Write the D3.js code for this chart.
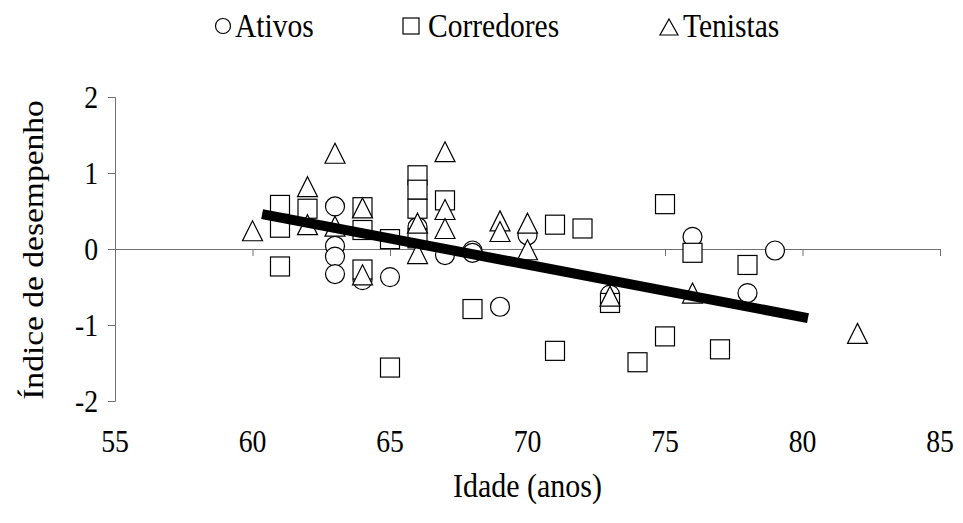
<!DOCTYPE html>
<html>
<head>
<meta charset="utf-8">
<script src="https://cdn.jsdelivr.net/npm/d3@7"></script>
<style>
  html, body { margin: 0; padding: 0; background: #fff; }
  svg { display: block; }
  text { font-family: "Liberation Serif", "Times New Roman", serif; fill: #000; }
</style>
</head>
<body>
<svg id="chart" width="963" height="523"></svg>
<script>
// Ativos (circles)
const ativosIdade = [63, 63, 63, 63, 64, 65, 66, 67, 68, 68, 69, 70, 73, 76, 78, 79];
const ativosIndice = [0.56, 0.04, -0.10, -0.33, -0.41, -0.37, 0.29, -0.08, -0.02, -0.05, -0.76, 0.18, -0.60, 0.16, -0.58, -0.02];

// Corredores (squares)
const corredoresIdade = [61, 61, 61, 62, 64, 64, 64, 65, 65, 66, 66, 66, 66, 67, 68, 71, 71, 72, 73, 74, 75, 75, 76, 77, 78];
const corredoresIndice = [0.58, 0.28, -0.23, 0.53, 0.55, 0.25, -0.27, 0.13, -1.56, 0.97, 0.78, 0.53, 0.14, 0.64, -0.79, 0.32, -1.34, 0.27, -0.71, -1.49, 0.59, -1.15, -0.05, -1.32, -0.21];

// Tenistas (triangles)
const tenistasIdade = [60, 62, 62, 63, 63, 64, 64, 66, 66, 67, 67, 67, 69, 69, 70, 70, 73, 76, 82];
const tenistasIndice = [0.24, 0.82, 0.32, 1.26, 0.30, 0.54, -0.34, 0.34, -0.06, 1.28, 0.52, 0.27, 0.37, 0.23, 0.34, -0.01, -0.62, -0.58, -1.11];

// Linear trend drawn across the sample
const tendenciaIdade = [60.35, 80.2];
const tendenciaIndice = [0.46, -0.91];

const xTicks = [55, 60, 65, 70, 75, 80, 85];
const yTicks = [-2, -1, 0, 1, 2];
const seriesNames = ["Ativos", "Corredores", "Tenistas"];

const svg = d3.select("#chart");
const x = d3.scaleLinear().domain([55, 85]).range([115, 940]);
const y = d3.scaleLinear().domain([-2, 2]).range([401, 97]);

const axisColor = "#707070";
// The typeface is slightly condensed horizontally
const squeeze = 0.895;

// Text helper: horizontal text, narrowed by a horizontal scale factor
function label(parent, txt, px, py, size, anchor) {
  return parent.append("text")
    .attr("transform", `translate(${px},${py}) scale(${squeeze},1)`)
    .attr("text-anchor", anchor || "start")
    .attr("font-size", size)
    .text(txt);
}

// Y axis on the left
const yAxis = svg.append("g")
  .attr("transform", `translate(${x(55)},0)`)
  .call(d3.axisLeft(y).tickValues(yTicks).tickSizeInner(7).tickSizeOuter(7).tickFormat(""));
yAxis.select(".domain").attr("stroke", axisColor);
yAxis.selectAll(".tick line").attr("stroke", axisColor);
yAxis.selectAll(".tick text").remove();

const yLabels = svg.append("g");
yTicks.forEach(t => label(yLabels, t < 0 ? "-" + Math.abs(t) : String(t), 98, y(t) + 10.5, 31, "end"));

// X axis crossing at zero
const xAxis = svg.append("g")
  .attr("transform", `translate(0,${y(0)})`)
  .call(d3.axisBottom(x).tickValues(xTicks).tickSizeInner(7).tickSizeOuter(0).tickFormat(""));
xAxis.select(".domain").attr("stroke", axisColor);
xAxis.selectAll(".tick line").attr("stroke", axisColor);
xAxis.selectAll(".tick text").remove();

// X tick labels placed below the plot
const xLabels = svg.append("g");
xTicks.forEach(t => label(xLabels, String(t), x(t), 452, 31, "middle"));

// Axis titles
label(svg, "Idade (anos)", x(70), 497, 33.5, "middle");

svg.append("text")
  .attr("transform", `translate(43,${y(0) + 1}) rotate(-90) scale(${1 / squeeze},1)`)
  .attr("text-anchor", "middle")
  .attr("font-size", 30)
  .text("Índice de desempenho");

// Marker shapes
const mSize = 19;
function drawCircle(g, cx, cy, r) {
  g.append("circle").attr("cx", cx).attr("cy", cy).attr("r", r)
    .attr("fill", "#fff").attr("stroke", "#000").attr("stroke-width", 1.2);
}
function drawSquare(g, cx, cy, s) {
  g.append("rect").attr("x", cx - s / 2).attr("y", cy - s / 2).attr("width", s).attr("height", s)
    .attr("fill", "#fff").attr("stroke", "#000").attr("stroke-width", 1.2);
}
function drawTriangle(g, cx, cy, s, h) {
  h = h || s;
  const pts = [[cx, cy - h / 2], [cx + s / 2, cy + h / 2], [cx - s / 2, cy + h / 2]];
  g.append("path").attr("d", d3.line()(pts) + "Z")
    .attr("fill", "#fff").attr("stroke", "#000").attr("stroke-width", 1.2);
}

const marks = svg.append("g");
ativosIdade.forEach((a, i) => drawCircle(marks, x(a), y(ativosIndice[i]), mSize / 2));
corredoresIdade.forEach((a, i) => drawSquare(marks, x(a), y(corredoresIndice[i]), mSize));
tenistasIdade.forEach((a, i) => drawTriangle(marks, x(a), y(tenistasIndice[i]), mSize + 1));

// Trend line on top of the markers
svg.append("path")
  .datum(tendenciaIdade.map((a, i) => [a, tendenciaIndice[i]]))
  .attr("d", d3.line().x(d => x(d[0])).y(d => y(d[1])))
  .attr("stroke", "#000").attr("stroke-width", 10).attr("fill", "none");

// Legend
const legend = svg.append("g");
const legendY = 26;
const legendItems = [
  { name: seriesNames[0], mx: 223, tx: 235, draw: (g, cx, cy) => drawCircle(g, cx, cy, 7.5) },
  { name: seriesNames[1], mx: 411, tx: 428, draw: (g, cx, cy) => drawSquare(g, cx, cy, 16) },
  { name: seriesNames[2], mx: 669, tx: 683, draw: (g, cx, cy) => drawTriangle(g, cx, cy + 1, 18, 16) }
];
legendItems.forEach(it => {
  it.draw(legend, it.mx, legendY);
  label(legend, it.name, it.tx, legendY + 10.5, 33, "start");
});
</script>
</body>
</html>
